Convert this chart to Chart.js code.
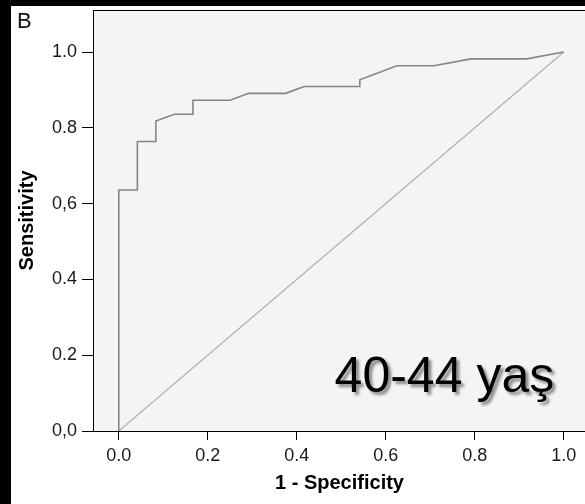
<!DOCTYPE html>
<html>
<head>
<meta charset="utf-8">
<script src="https://cdn.jsdelivr.net/npm/chart.js@4/dist/chart.umd.min.js"></script>
<style>
  html, body { margin: 0; padding: 0; overflow: hidden; background: #000; }
  #roc { display: block; }
</style>
</head>
<body>
<canvas id="roc" width="590" height="504"></canvas>
<script>
// ROC eğrisi (1 - Specificity, Sensitivity)
var fprValues = [0, 0, 0.0417, 0.0417, 0.0833, 0.0833, 0.125, 0.1667, 0.1667, 0.25, 0.2917, 0.375, 0.4167, 0.5417, 0.5417, 0.625, 0.7083, 0.7917, 0.9167, 1];
var tprValues = [0, 0.636, 0.636, 0.764, 0.764, 0.818, 0.836, 0.836, 0.873, 0.873, 0.891, 0.891, 0.909, 0.909, 0.927, 0.964, 0.964, 0.982, 0.982, 1];

// referans çizgisi
var refX = [0, 1];
var refY = [0, 1];

var xTicks = [0, 0.2, 0.4, 0.6, 0.8, 1.0];
var xTickLabels = ['0.0', '0.2', '0.4', '0.6', '0.8', '1.0'];
var yTicks = [0, 0.2, 0.4, 0.6, 0.8, 1.0];
var yTickLabels = ['0,0', '0.2', '0.4', '0,6', '0.8', '1.0'];

var panelLabel = 'B';
var ageLabel = '40-44 yaş';
var ageLabelAt = { x: 0.485, y: 0.103 }; // veri koordinatları

var FONT = "'Liberation Sans', Arial, sans-serif";

var framePlugin = {
  id: 'frame',
  beforeDraw: function(chart) {
    var ctx = chart.ctx, a = chart.chartArea;
    ctx.save();
    ctx.fillStyle = '#000';
    ctx.fillRect(0, 0, chart.width, chart.height);
    ctx.fillStyle = '#fff';
    ctx.fillRect(11, 6, chart.width - 11, chart.height - 6);
    ctx.fillStyle = '#f4f4f4';
    ctx.fillRect(a.left, a.top, a.right - a.left, a.bottom - a.top);
    ctx.restore();
  },
  afterDraw: function(chart) {
    var ctx = chart.ctx, a = chart.chartArea;
    ctx.save();
    ctx.strokeStyle = '#000';
    ctx.lineWidth = 1;
    ctx.strokeRect(Math.round(a.left) + 0.5, Math.round(a.top) + 0.5,
                   Math.round(a.right - a.left), Math.round(a.bottom - a.top));

    // panel harfi
    ctx.fillStyle = '#111';
    ctx.font = '22px ' + FONT;
    ctx.textBaseline = 'alphabetic';
    ctx.textAlign = 'left';
    ctx.fillText(panelLabel, 17, 28);

    // yaş grubu etiketi
    var px = chart.scales.x.getPixelForValue(ageLabelAt.x);
    var py = chart.scales.y.getPixelForValue(ageLabelAt.y);
    ctx.font = "50px 'Comic Sans MS', " + FONT;
    ctx.shadowColor = 'rgba(0,0,0,0.45)';
    ctx.shadowOffsetX = 3;
    ctx.shadowOffsetY = 3;
    ctx.shadowBlur = 3;
    ctx.fillStyle = '#000';
    ctx.fillText(ageLabel, px, py);
    ctx.restore();
  }
};

var ctx = document.getElementById('roc');
new Chart(ctx, {
  type: 'scatter',
  data: {
    datasets: [
      {
        label: 'ROC',
        data: fprValues.map(function(v, i) { return { x: v, y: tprValues[i] }; }),
        showLine: true,
        borderColor: '#858585',
        borderWidth: 1.6,
        pointRadius: 0,
        tension: 0,
        order: 1
      },
      {
        label: 'Reference',
        data: refX.map(function(v, i) { return { x: v, y: refY[i] }; }),
        showLine: true,
        borderColor: '#b0b0b0',
        borderWidth: 1.2,
        pointRadius: 0,
        order: 2
      }
    ]
  },
  options: {
    responsive: false,
    animation: false,
    devicePixelRatio: 1,
    layout: { padding: { left: 0, top: 10, right: 4, bottom: 0 } },
    plugins: {
      legend: { display: false },
      tooltip: { enabled: false }
    },
    scales: {
      x: {
        type: 'linear',
        min: -0.058,
        max: 1.05,
        afterBuildTicks: function(scale) {
          scale.ticks = xTicks.map(function(v) { return { value: v }; });
        },
        afterFit: function(scale) {
          scale.height = 73;
          scale.paddingLeft = 0;
          scale.paddingRight = 0;
        },
        ticks: {
          color: '#1a1a1a',
          font: { family: FONT, size: 18 },
          padding: 5,
          maxRotation: 0,
          callback: function(v) {
            var i = xTicks.indexOf(v);
            return i >= 0 ? xTickLabels[i] : '';
          }
        },
        grid: { drawOnChartArea: false, drawTicks: true, tickLength: 9, tickColor: '#000', tickWidth: 1 },
        border: { display: false },
        title: {
          display: true,
          text: '1 - Specificity',
          color: '#000',
          font: { family: FONT, size: 20, weight: 'bold' },
          padding: { top: 0, bottom: 9 }
        }
      },
      y: {
        type: 'linear',
        min: 0,
        max: 1.111,
        afterBuildTicks: function(scale) {
          scale.ticks = yTicks.map(function(v) { return { value: v }; });
        },
        afterFit: function(scale) {
          scale.width = 93;
          scale.paddingTop = 0;
          scale.paddingBottom = 0;
        },
        ticks: {
          color: '#1a1a1a',
          font: { family: FONT, size: 18 },
          padding: 5,
          callback: function(v) {
            var i = yTicks.indexOf(v);
            return i >= 0 ? yTickLabels[i] : '';
          }
        },
        grid: { drawOnChartArea: false, drawTicks: true, tickLength: 11, tickColor: '#000', tickWidth: 1 },
        border: { display: false },
        title: {
          display: true,
          text: 'Sensitivity',
          color: '#000',
          font: { family: FONT, size: 20, weight: 'bold' },
          padding: { top: 15, bottom: 0 }
        }
      }
    }
  },
  plugins: [framePlugin]
});
</script>
</body>
</html>
